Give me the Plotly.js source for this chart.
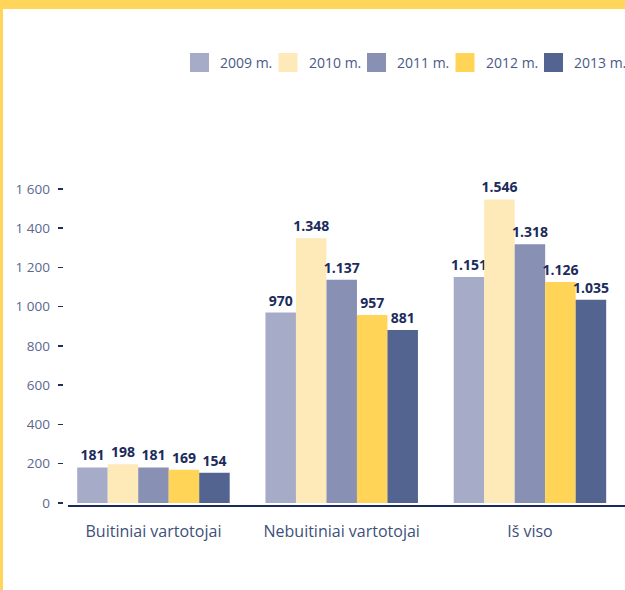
<!DOCTYPE html>
<html>
<head>
<meta charset="utf-8">
<script src="https://cdn.plot.ly/plotly-3.0.1.min.js"></script>
<style>
  html, body { margin: 0; padding: 0; background: #ffffff; }
  #wrap { width: 625px; height: 590px; box-sizing: border-box;
          border-top: 9px solid #ffd659; border-left: 3px solid #ffd659; background: #fff; }
  #chart { width: 622px; height: 581px; }
</style>
</head>
<body>
<div id="wrap"><div id="chart"></div></div>
<script>
// ---- data ----
const categories = ['Buitiniai vartotojai', 'Nebuitiniai vartotojai', 'Iš viso'];
const years = ['2009 m.', '2010 m.', '2011 m.', '2012 m.', '2013 m.'];
const v2009 = [181, 970, 1151];
const v2010 = [198, 1348, 1546];
const v2011 = [181, 1137, 1318];
const v2012 = [169, 957, 1126];
const v2013 = [154, 881, 1035];
const yTickVals = [0, 200, 400, 600, 800, 1000, 1200, 1400, 1600];
const yTickText = ['0', '200', '400', '600', '800', '1 000', '1 200', '1 400', '1 600'];

// ---- styling ----
const series = [v2009, v2010, v2011, v2012, v2013];
const colors = ['#a6abc8', '#feeab8', '#8890b4', '#ffd457', '#52648f'];
const FONT = 'Open Sans, Noto Sans, sans-serif';

function fmt(n) {
  if (n >= 1000) {
    const s = String(n);
    return s.slice(0, s.length - 3) + '.' + s.slice(s.length - 3);
  }
  return String(n);
}

const W = 622, H = 581;
const M = { l: 54, r: 0, t: 131, b: 85 };
const PW = W - M.l - M.r, PH = H - M.t - M.b;
// page pixel -> paper coordinates (page offset: 3px left border, 9px top band)
const px = x => (x - 3 - M.l) / PW;
const py = y => (H - M.b - (y - 9)) / PH;

const traces = series.map((vals, i) => ({
  type: 'bar',
  name: years[i],
  x: categories,
  y: vals,
  text: vals.map(fmt),
  textposition: 'outside',
  textfont: { family: FONT, size: 14, color: '#1b2b5b', weight: 700 },
  constraintext: 'none',
  cliponaxis: false,
  marker: { color: colors[i], line: { width: 0 } },
  hoverinfo: 'skip',
  showlegend: false
}));

// custom legend (large square swatches)
const shapes = [];
const annotations = [];
years.forEach((yr, i) => {
  const x0 = 190 + i * 88.5;
  shapes.push({
    type: 'rect', xref: 'paper', yref: 'paper',
    x0: px(x0), x1: px(x0 + 19), y0: py(72), y1: py(53),
    fillcolor: colors[i], line: { width: 0 }
  });
  annotations.push({
    xref: 'paper', yref: 'paper', x: px(x0 + 28), y: py(62.5),
    xanchor: 'left', yanchor: 'middle', showarrow: false,
    text: yr, font: { family: FONT, size: 14, color: '#4a5a85' }
  });
});

const layout = {
  width: W, height: H,
  margin: M,
  paper_bgcolor: '#ffffff', plot_bgcolor: '#ffffff',
  barmode: 'group',
  bargap: 0.19, bargroupgap: 0,
  showlegend: false,
  font: { family: FONT },
  xaxis: {
    domain: [11 / PW, 1],
    range: [-0.454, 2.505],
    showline: true, linecolor: '#1a2a5a', linewidth: 2,
    showgrid: false, zeroline: false, ticks: '',
    ticklabelstandoff: 11,
    tickfont: { family: FONT, size: 16, color: '#3e4f7a' },
    fixedrange: true
  },
  yaxis: {
    anchor: 'free', position: 0,
    range: [-10.2, 1849],
    tickvals: yTickVals, ticktext: yTickText,
    ticks: 'inside', ticklen: 5, tickwidth: 1.5, tickcolor: '#1f2f5a',
    ticklabelstandoff: 7,
    showgrid: false, zeroline: false, showline: false,
    tickfont: { family: FONT, size: 13.5, color: '#5a6890' },
    fixedrange: true
  },
  shapes: shapes,
  annotations: annotations
};

Plotly.newPlot('chart', traces, layout, { displayModeBar: false, staticPlot: true });
</script>
</body>
</html>
